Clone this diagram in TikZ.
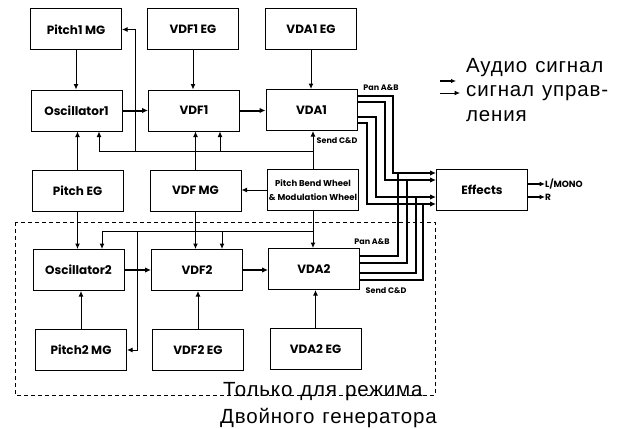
\documentclass[tikz,border=0pt]{standalone}
\usepackage{fontspec}
\setmainfont{Liberation Sans}
\newfontfamily\bx{Poppins}
\usetikzlibrary{arrows.meta}
\begin{document}
\begin{tikzpicture}[x=1pt,y=-1pt,
  box/.style={draw, line width=1pt, minimum width=91pt, minimum height=41pt, inner sep=0pt,
    font=\bx\bfseries\fontsize{12}{14}\selectfont},
  ctl/.style={line width=1pt, -{Latex[length=5.5pt,width=5pt]}},
  aud/.style={line width=2pt, -{Latex[length=6pt,width=5.5pt]}},
  bus/.style={line width=2pt},
  thin/.style={line width=1pt},
  lbl/.style={font=\bx\bfseries\fontsize{8}{9}\selectfont, inner sep=0pt},
  ru/.style={font=\fontsize{20.5}{22}\selectfont\addfontfeature{LetterSpace=4}, inner sep=0pt, anchor=base west}]
\useasboundingbox (0,0) rectangle (623,428);

% boxes
\node[box] (p1mg) at (76,29.5) {Pitch1 MG};
\node[box] (vdf1eg) at (193,29.5) {VDF1 EG};
\node[box] (vda1eg) at (311,29.5) {VDA1 EG};
\node[box] (osc1) at (76.5,110.5) {Oscillator1};
\node[box] (vdf1) at (194,110.5) {VDF1};
\node[box] (vda1) at (311.5,110) {VDA1};
\node[box] (pitcheg) at (77.5,190.5) {Pitch EG};
\node[box] (vdfmg) at (195.5,190.5) {VDF MG};
\node[box, align=center, font=\bx\bfseries\fontsize{8.5}{14}\selectfont] (pbw) at (313,190) {Pitch Bend Wheel\\\& Modulation Wheel};
\node[box] (fx) at (482,189.5) {Effects};
\node[box] (osc2) at (78.5,270) {Oscillator2};
\node[box] (vdf2) at (197,270) {VDF2};
\node[box] (vda2) at (314,269) {VDA2};
\node[box] (p2mg) at (81,350) {Pitch2 MG};
\node[box] (vdf2eg) at (198,350) {VDF2 EG};
\node[box] (vda2eg) at (315.5,349) {VDA2 EG};

% dashed frame
\draw[dash pattern=on 4pt off 3pt, line width=1pt] (15,222) rectangle (435,395);

% simple control connections
\draw[ctl] (p1mg.south) -- (p1mg.south |- osc1.north);
\draw[ctl] (vdf1eg.south) -- (vdf1eg.south |- vdf1.north);
\draw[ctl] (vda1eg.south) -- (vda1eg.south |- vda1.north);
\draw[ctl] (pitcheg.north) -- (pitcheg.north |- osc1.south);
\draw[ctl] (vdfmg.north) -- (vdfmg.north |- vdf1.south);
\draw[ctl] (pbw.west) -- (pbw.west -| vdfmg.east);
\draw[ctl] (pitcheg.south) -- (pitcheg.south |- osc2.north);
\draw[ctl] (vdfmg.south) -- (vdfmg.south |- vdf2.north);
\draw[ctl] (p2mg.north) -- (p2mg.north |- osc2.south);
\draw[ctl] (vdf2eg.north) -- (vdf2eg.north |- vdf2.south);
\draw[ctl] (vda2eg.north) -- (vda2eg.north |- vda2.south);

% upper control bus
\coordinate (uL) at (99,151);
\coordinate (uV) at (135,151);
\coordinate (uF) at (220,151);
\coordinate (uR) at (pbw.north |- uL);
\draw[ctl] (pbw.north) -- (pbw.north |- vda1.south);
\draw[thin] (uL) -- (uR);
\draw[ctl] (uL) -- (uL |- osc1.south);
\draw[ctl] (uF) -- (uF |- vdf1.south);
\draw[ctl] (uV) |- (p1mg.east);

% lower control bus
\coordinate (lL) at (102,231);
\coordinate (lV) at (137,231);
\coordinate (lF) at (222,231);
\coordinate (lR) at (pbw.south |- lL);
\draw[ctl] (pbw.south) -- (pbw.south |- vda2.north);
\draw[thin] (lL) -- (lR);
\draw[ctl] (lL) -- (lL |- osc2.north);
\draw[ctl] (lF) -- (lF |- vdf2.north);
\draw[ctl] (lV) |- (p2mg.east);

% audio chain
\draw[aud] (osc1.east) -- (osc1.east -| vdf1.west);
\draw[aud] (vdf1.east) -- (vdf1.east -| vda1.west);
\draw[aud] (osc2.east) -- (osc2.east -| vdf2.west);
\draw[aud] (vdf2.east) -- (vdf2.east -| vda2.west);

% audio bus to effects
\coordinate (a1) at (393,173);
\coordinate (a2) at (385,180);
\coordinate (a3) at (376,197);
\coordinate (a4) at (367,204);
\draw[aud] ([yshift=14pt]vda1.east) -| (a1) -- (fx.west |- a1);
\draw[aud] ([yshift=8pt]vda1.east) -| (a2) -- (fx.west |- a2);
\draw[aud] ([yshift=-7pt]vda1.east) -| (a3) -- (fx.west |- a3);
\draw[aud] ([yshift=-13pt]vda1.east) -| (a4) -- (fx.west |- a4);
\coordinate (b1) at (398,173);
\coordinate (b2) at (407,180);
\coordinate (b3) at (416,197);
\coordinate (b4) at (423,204);
\draw[bus] ([yshift=13pt]vda2.east) -| (b1);
\draw[bus] ([yshift=6pt]vda2.east) -| (b2);
\draw[bus] ([yshift=-4pt]vda2.east) -| (b3);
\draw[bus] ([yshift=-11pt]vda2.east) -| (b4);

% labels
\node[lbl] (panu) at (381,88) {Pan A\&B};
\node[lbl] (sendu) at (337,141) {Send C\&D};
\node[lbl] (panl) at (372,242) {Pan A\&B};
\node[lbl] (sendl) at (386,291) {Send C\&D};

% outputs
\coordinate (oL) at (545,184);
\coordinate (oR) at (545,197);
\draw[ctl, line width=1.6pt] (fx.east |- oL) -- (oL);
\draw[ctl, line width=1.6pt] (fx.east |- oR) -- (oR);
\node[lbl, anchor=west, font=\bx\bfseries\fontsize{9}{10}\selectfont] (lmono) at (oL) {L/MONO};
\node[lbl, anchor=west, font=\bx\bfseries\fontsize{9}{10}\selectfont] (rout) at (oR) {R};

% legend
\coordinate (g1a) at (440,81);
\coordinate (g1b) at (456,81);
\coordinate (g2a) at (440,93);
\coordinate (g2b) at (460,93);
\draw[line width=1.8pt, -{Latex[length=5pt,width=4.5pt]}] (g1a) -- (g1b);
\draw[ctl] (g2a) -- (g2b);
\node[ru] (t1) at (466,72.7) {Аудио\hspace{8pt}сигнал};
\node[ru] (t2) at (466,96) {сигнал\hspace{8pt}управ-};
\node[ru] (t3) at (466,121) {ления};

\node[ru] (t4) at (223,396) {Только\hspace{8pt}для\hspace{8pt}режима};
\node[ru] (t5) at (220,423) {Двойного\hspace{8pt}генератора};
\end{tikzpicture}
\end{document}
